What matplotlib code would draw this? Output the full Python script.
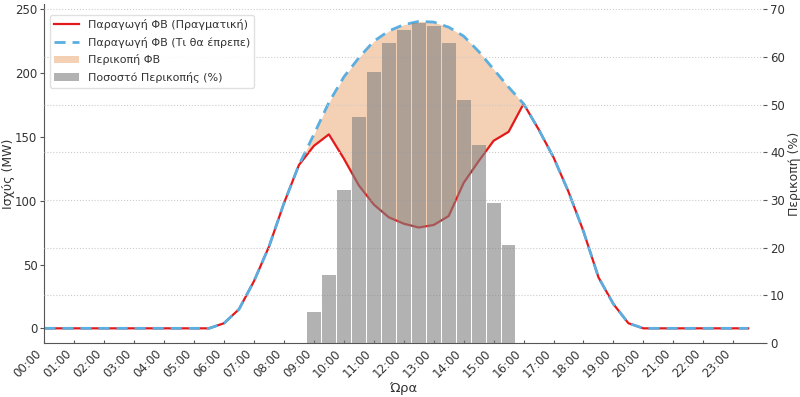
import numpy as np
import matplotlib
matplotlib.use("Agg")
import matplotlib.pyplot as plt

# half-hourly time slots (hours of day)
hours = np.arange(0, 24, 0.5)
hour_labels = [f"{h:02d}:00" for h in range(24)]

# PV output that should have been produced (MW)
pv_potential = [0, 0, 0, 0, 0, 0, 0, 0, 0, 0, 0, 0,
                4, 15, 37, 64, 98, 128, 152, 177, 197, 212, 225, 233,
                238, 240.5, 240, 236, 229, 217, 203, 189, 176, 156, 134, 107,
                76, 40, 19, 4, 0, 0, 0, 0, 0, 0, 0, 0]

# PV output actually produced (MW)
pv_actual = [0, 0, 0, 0, 0, 0, 0, 0, 0, 0, 0, 0,
             4, 15, 37, 64, 98, 128, 143, 152, 133, 112, 97, 87,
             82, 79, 81, 88, 114, 131, 147, 154, 176, 156, 134, 107,
             76, 40, 19, 4, 0, 0, 0, 0, 0, 0, 0, 0]

# curtailment share (%)
curtail_pct = [0, 0, 0, 0, 0, 0, 0, 0, 0, 0, 0, 0,
               0, 0, 0, 0, 0, 0, 6.4, 14.3, 32.0, 47.3, 56.9, 63.0,
               65.7, 67.2, 66.4, 63.0, 50.9, 41.6, 29.4, 20.5, 0, 0, 0, 0,
               0, 0, 0, 0, 0, 0, 0, 0, 0, 0, 0, 0]

txt = "#333333"
spine_c = "#555555"
plt.rcParams['font.family'] = ['DejaVu Sans']
plt.rcParams['font.size'] = 8

fig = plt.figure(figsize=(8, 3.97), dpi=100)
ax1 = fig.add_axes([0.0554, 0.136, 0.8986, 0.854])
ax2 = ax1.twinx()

l1, = ax1.plot(hours, pv_actual, color="#e31a1c", lw=1.6,
               label="Παραγωγή ΦΒ (Πραγματική)")
l2, = ax1.plot(hours, pv_potential, color="#5aaee0", lw=2.0, ls=(0, (4, 2.5)),
               label="Παραγωγή ΦΒ (Τι θα έπρεπε)")
f1 = ax1.fill_between(hours, pv_actual, pv_potential, color="#eba36a", alpha=0.5,
                      lw=0, label="Περικοπή ΦΒ")
b1 = ax2.bar(hours, curtail_pct, width=0.46, color="gray", alpha=0.6,
             label="Ποσοστό Περικοπής (%)")

ax1.set_xlim(0, 24)
ax1.set_ylim(-11.5, 254.2)
ax2.set_ylim(0, 71.1)
ax1.set_yticks([0, 50, 100, 150, 200, 250])
ax2.set_yticks(range(0, 71, 10))
ax1.set_xticks(range(24))
ax1.set_xticklabels(hour_labels, rotation=45, ha="right")

ax2.grid(axis="y", color="#cccccc", ls=":", lw=0.8)
ax2.set_axisbelow(True)

for ax in (ax1, ax2):
    ax.spines["top"].set_visible(False)
    ax.spines["right"].set_visible(False)
    ax.tick_params(colors=spine_c, labelcolor=txt, labelsize=8.5, length=3, pad=2)
ax1.spines["left"].set_color(spine_c)
ax1.spines["bottom"].set_color(spine_c)
ax2.spines["left"].set_visible(False)
ax2.spines["bottom"].set_visible(False)
ax1.tick_params(axis="x", direction="in", length=2, pad=3)

ax1.set_xlabel("Ώρα", color=txt, fontsize=9.5, labelpad=1)
ax1.set_ylabel("Ισχύς (MW)", color=txt, fontsize=9, labelpad=0)
ax2.set_ylabel("Περικοπή (%)", color=txt, fontsize=9, labelpad=2)

ax2.legend([l1, l2, f1, b1], [h.get_label() for h in (l1, l2, f1, b1)],
           loc="upper left", bbox_to_anchor=(0.0, 0.985), fontsize=8,
           framealpha=0.9, edgecolor="#dddddd", labelcolor=txt,
           handlelength=2.2, labelspacing=0.6)

fig.savefig("out.png", dpi=100)
